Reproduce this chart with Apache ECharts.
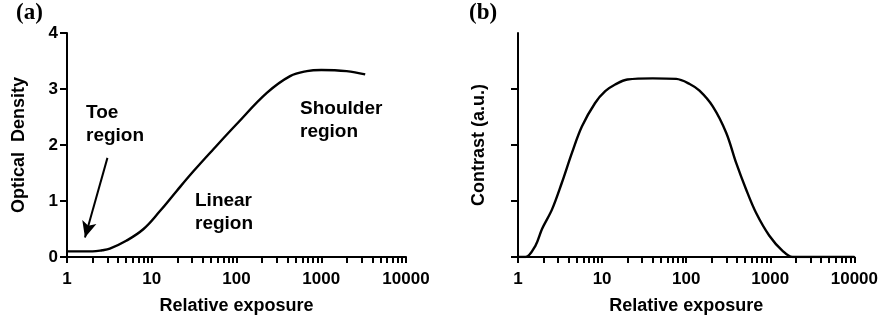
<!DOCTYPE html>
<html>
<head>
<meta charset="utf-8">
<script src="https://cdn.jsdelivr.net/npm/echarts@6/dist/echarts.min.js"></script>
<style>
  html, body { margin: 0; padding: 0; background: #fff; }
  #chart { width: 881px; height: 320px; }
</style>
</head>
<body>
<div id="chart"></div>
<script>
// (a) characteristic curve: [relative exposure, optical density]
var densityCurve = [
    [1, 0.1], [1.5, 0.1], [2.0, 0.1], [2.6, 0.12], [3.2, 0.15], [5.0, 0.29],
    [8.0, 0.5], [12.5, 0.82], [19.7, 1.18], [31, 1.53], [53, 1.92],
    [100, 2.37], [228, 2.93], [429, 3.23], [676, 3.32], [1000, 3.34],
    [1990, 3.32], [3300, 3.26]
];
// (b) contrast curve: [relative exposure, contrast]
var contrastCurve = [
    [1, 0], [1.23, 0], [1.61, 0.2], [1.93, 0.5], [2.54, 0.85], [3.33, 1.33],
    [4.38, 1.86], [5.75, 2.33], [8.26, 2.75], [10.9, 2.96], [14.3, 3.08],
    [20, 3.17], [40, 3.19], [76, 3.18], [110, 3.09], [144, 2.97], [207, 2.69],
    [299, 2.22], [393, 1.68], [515, 1.21], [677, 0.79], [975, 0.38],
    [1400, 0.11], [1840, 0], [10000, 0]
];
var xLabels = [1, 10, 100, 1000, 10000];
var yTicksB = [0, 1, 2, 3];
// toe arrow: from text down to the foot of the curve
var toeArrow = [[3.0, 1.77], [1.63, 0.35]];

// minor ticks 1..9 per decade
var xTicks = [];
xLabels.slice(0, 4).forEach(function (d) {
    for (var k = 1; k < 10; k++) xTicks.push(k * d);
});
xTicks.push(10000);

var sans = '"Liberation Sans", Arial, sans-serif';
var black = '#000';

function xAxisOpt(grid) {
    return {
        type: 'log', logBase: 10, min: 1, max: 10000, gridIndex: grid,
        name: 'Relative exposure', nameLocation: 'middle', nameGap: 40,
        nameTextStyle: { fontFamily: sans, fontWeight: 'bold', fontSize: 18, color: black },
        axisLine: { lineStyle: { color: black, width: 2 } },
        axisTick: { show: true, length: 6, lineStyle: { color: black, width: 2 }, customValues: xTicks },
        minorTick: { show: false },
        splitLine: { show: false },
        axisLabel: {
            customValues: xLabels, margin: 14, color: black,
            fontFamily: sans, fontWeight: 'bold', fontSize: 17,
            formatter: function (v) { return String(v); }
        }
    };
}

var myChart = echarts.init(document.getElementById('chart'));
myChart.setOption({
    animation: false,
    backgroundColor: '#fff',
    grid: [
        { left: 67, top: 33, width: 339, bottom: 62 },
        { left: 518, top: 33, width: 337, bottom: 62 }
    ],
    xAxis: [xAxisOpt(0), xAxisOpt(1)],
    yAxis: [{
        type: 'value', gridIndex: 0, min: 0, max: 4, interval: 1,
        name: 'Optical  Density', nameLocation: 'middle', nameGap: 39,
        nameTextStyle: { fontFamily: sans, fontWeight: 'bold', fontSize: 18, color: black },
        axisLine: { show: true, lineStyle: { color: black, width: 2 } },
        axisTick: { show: true, length: 7, lineStyle: { color: black, width: 2 } },
        splitLine: { show: false },
        axisLabel: { margin: 9, color: black, fontFamily: sans, fontWeight: 'bold', fontSize: 17 }
    }, {
        type: 'value', gridIndex: 1, min: 0, max: 4, interval: 1,
        name: 'Contrast (a.u.)', nameLocation: 'middle', nameGap: 30,
        nameTextStyle: { fontFamily: sans, fontWeight: 'bold', fontSize: 18, color: black },
        axisLine: { show: true, lineStyle: { color: black, width: 2 } },
        axisTick: { show: true, length: 7, lineStyle: { color: black, width: 2 }, customValues: yTicksB },
        splitLine: { show: false },
        axisLabel: { show: false }
    }],
    series: [{
        type: 'line', xAxisIndex: 0, yAxisIndex: 0, data: densityCurve,
        smooth: 0.4, showSymbol: false, lineStyle: { color: black, width: 2.4 },
        markLine: {
            silent: true, symbol: ['none', 'arrow'], symbolSize: [11, 16],
            label: { show: false },
            lineStyle: { color: black, width: 2, type: 'solid' },
            data: [[{ coord: toeArrow[0] }, { coord: toeArrow[1] }]]
        }
    }, {
        type: 'line', xAxisIndex: 1, yAxisIndex: 1, data: contrastCurve,
        smooth: 0.35, showSymbol: false, lineStyle: { color: black, width: 2.4 }
    }],
    graphic: [
        { type: 'text', left: 16, top: 2, style: { text: '(a)', font: 'bold 23px "Liberation Serif", serif', fill: black } },
        { type: 'text', left: 469, top: 2, style: { text: '(b)', font: 'bold 23px "Liberation Serif", serif', fill: black } },
        { type: 'text', left: 86, top: 101, style: { text: 'Toe\nregion', font: 'bold 19px ' + sans, lineHeight: 23, fill: black } },
        { type: 'text', left: 195, top: 189, style: { text: 'Linear\nregion', font: 'bold 19px ' + sans, lineHeight: 23, fill: black } },
        { type: 'text', left: 300, top: 97, style: { text: 'Shoulder\nregion', font: 'bold 19px ' + sans, lineHeight: 23, fill: black } }
    ]
});
</script>
</body>
</html>
